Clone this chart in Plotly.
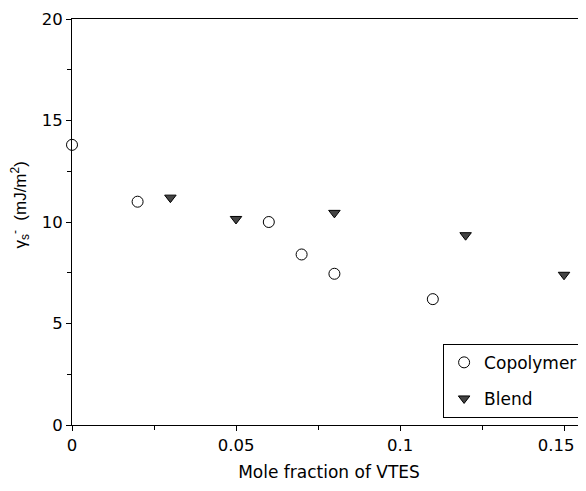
import plotly.graph_objects as go

copolymer_x = [0.0, 0.02, 0.06, 0.07, 0.08, 0.11]
copolymer_y = [13.8, 11.0, 10.0, 8.4, 7.45, 6.2]
blend_x = [0.03, 0.05, 0.08, 0.12, 0.15]
blend_y = [11.2, 10.15, 10.45, 9.35, 7.4]

x_ticks = [0, 0.05, 0.1, 0.15]
x_tick_labels = ["0", "0.05", "0.1", "0.15\u00a0\u00a0\u00a0"]
y_ticks = [0, 5, 10, 15, 20]
y_tick_labels = ["0", "5", "10", "15", "20"]

FAM = "DejaVu Sans, Liberation Sans, Arial, sans-serif"
FAM2 = "Liberation Sans, Arial, sans-serif"

fig = go.Figure()
fig.add_trace(go.Scatter(
    x=copolymer_x, y=copolymer_y, mode="markers", name="Copolymer",
    legendgroup="a",
    marker=dict(symbol="circle", size=11, color="white", line=dict(color="black", width=1)),
    cliponaxis=False,
))
fig.add_trace(go.Scatter(
    x=blend_x, y=blend_y, mode="markers", name="Blend",
    legendgroup="b",
    marker=dict(symbol="triangle-down", size=10, color="#444444", line=dict(color="black", width=1)),
    cliponaxis=False,
))

fig.update_layout(
    width=578, height=475,
    margin=dict(l=64, r=0, t=11, b=58, autoexpand=False),
    paper_bgcolor="white", plot_bgcolor="white",
    font=dict(family=FAM, size=16.5, color="black"),
    showlegend=True,
    legend=dict(
        x=0.722, y=0.200, xanchor="left", yanchor="top",
        bordercolor="black", borderwidth=1, bgcolor="white",
        font=dict(family=FAM, size=17, color="black"),
        itemwidth=30, tracegroupgap=11,
    ),
    xaxis=dict(
        range=[0, 0.1567], tickvals=x_ticks, ticktext=x_tick_labels,
        showline=True, linecolor="black", linewidth=1, mirror=True,
        ticks="outside", ticklen=5, tickcolor="black",
        minor=dict(dtick=0.025, ticks="outside", ticklen=4, tickcolor="black"),
        showgrid=False, zeroline=False, automargin=False,
        ticklabeloverflow="allow",
        title=dict(text="Mole fraction of VTES", font=dict(size=17), standoff=12),
    ),
    yaxis=dict(
        range=[0, 20], tickvals=y_ticks, ticktext=y_tick_labels,
        showline=True, linecolor="black", linewidth=1, mirror=False,
        ticks="outside", ticklen=5, tickcolor="black",
        minor=dict(dtick=2.5, ticks="outside", ticklen=4, tickcolor="black"),
        showgrid=False, zeroline=False, automargin=False,
        ticklabeloverflow="allow",
    ),
    annotations=[dict(
        text="γ<sub>s</sub><sup>-</sup>  (mJ/m<sup>2</sup>)",
        xref="paper", yref="paper", x=-0.100, y=0.542,
        xanchor="center", yanchor="middle", textangle=-90, showarrow=False,
        font=dict(family=FAM2, size=17, color="black"),
    )],
)

fig.write_html("out.html")
